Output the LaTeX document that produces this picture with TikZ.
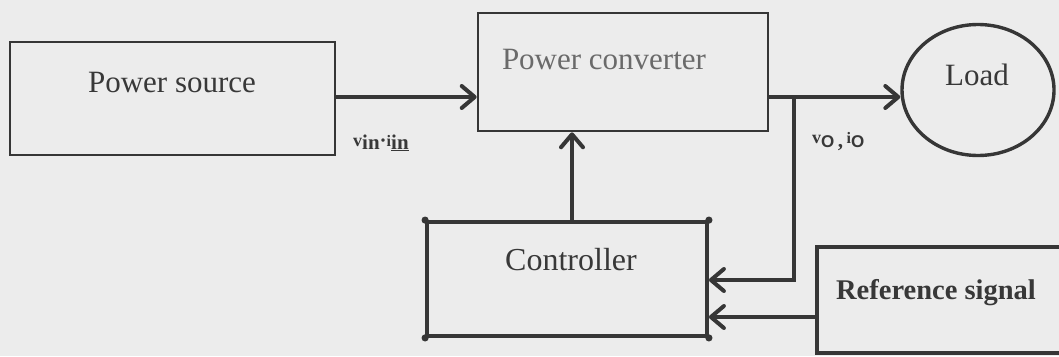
\documentclass[tikz,border=0pt]{standalone}
\usepackage{fontspec}
\setmainfont{Liberation Serif}
\newfontfamily\lsans{Liberation Sans}
\usetikzlibrary{arrows.meta,shapes.geometric}
\definecolor{bg}{HTML}{ECECEC}
\definecolor{ink}{HTML}{363636}
\definecolor{txt}{HTML}{383838}
\definecolor{lighttxt}{HTML}{6A6A6A}
\tikzset{
  boxthin/.style={draw=ink, line width=2.6pt, rectangle, inner sep=0pt},
  boxthick/.style={draw=ink, line width=3.8pt, rectangle, inner sep=0pt},
  lbl/.style={text=txt, inner sep=0pt, font=\fontsize{31}{32}\selectfont},
  small/.style={text=txt, inner sep=0pt, font=\fontsize{21}{22}\selectfont\bfseries},
  arr/.style={draw=ink, line width=4pt, -{Straight Barb[length=13pt,width=22pt,line width=4pt,round]}},
}
\begin{document}
\begin{tikzpicture}[x=1pt,y=-1pt]
\useasboundingbox (0,0) rectangle (1059,356);
\clip (0,0) rectangle (1059,356);
\fill[bg] (0,0) rectangle (1059,356);

% blocks
\node[boxthin, minimum width=325pt, minimum height=113pt] (ps) at (172.5,98.5) {};
\node[lbl] (pst) at (172,83) {Power source};

\node[boxthin, minimum width=290pt, minimum height=118pt] (pc) at (623,72) {};
\node[lbl, text=lighttxt] (pct) at (604,60) {Power converter};

\node[draw=ink, line width=3.4pt, ellipse, minimum width=152pt, minimum height=131pt, inner sep=0pt] (load) at (978,90) {};
\node[lbl] (loadt) at (977,75) {Load};

\node[boxthick, minimum width=280pt, minimum height=114pt] (ctrl) at (567,279) {};
\node[lbl, font=\fontsize{32}{33}\selectfont] (ctrlt) at (571,260) {Controller};
\foreach \a in {north west,north east,south west,south east}
  \fill[ink] (ctrl.\a) circle (3.6);

\node[boxthick, minimum width=270pt, minimum height=106pt] (ref) at (952,300) {};
\node[lbl, font=\fontsize{28.5}{29}\selectfont\bfseries] (reft) at (936,293) {Reference signal};

% connectors
\draw[arr] (ps.east |- 0,97) -- (pc.west |- 0,97);
\coordinate (br) at (794,97);
\draw[arr] (pc.east |- br) -- (load.west |- br);
\draw[arr] (br) |- (ctrl.east |- 0,280);
\draw[arr] (ref.west |- 0,317) -- (ctrl.east |- 0,317);
\coordinate (cu) at (572,0);
\draw[arr] (ctrl.north -| cu) -- (pc.south -| cu);

% labels
\node[small, anchor=west] (vin) at (353,143) {\raisebox{3pt}{\fontsize{18}{18}\selectfont v}in\raisebox{2pt}{\textperiodcentered}\raisebox{3pt}{\fontsize{16}{16}\selectfont i}\underline{in}};
\node[small, anchor=west] (vo) at (812,142) {\raisebox{4pt}{\fontsize{18}{18}\selectfont v}{\lsans\bfseries\fontsize{17}{17}\selectfont O}\,,\,\raisebox{4pt}{\fontsize{16}{16}\selectfont i}{\lsans\bfseries\fontsize{17}{17}\selectfont O}};
\end{tikzpicture}
\end{document}
